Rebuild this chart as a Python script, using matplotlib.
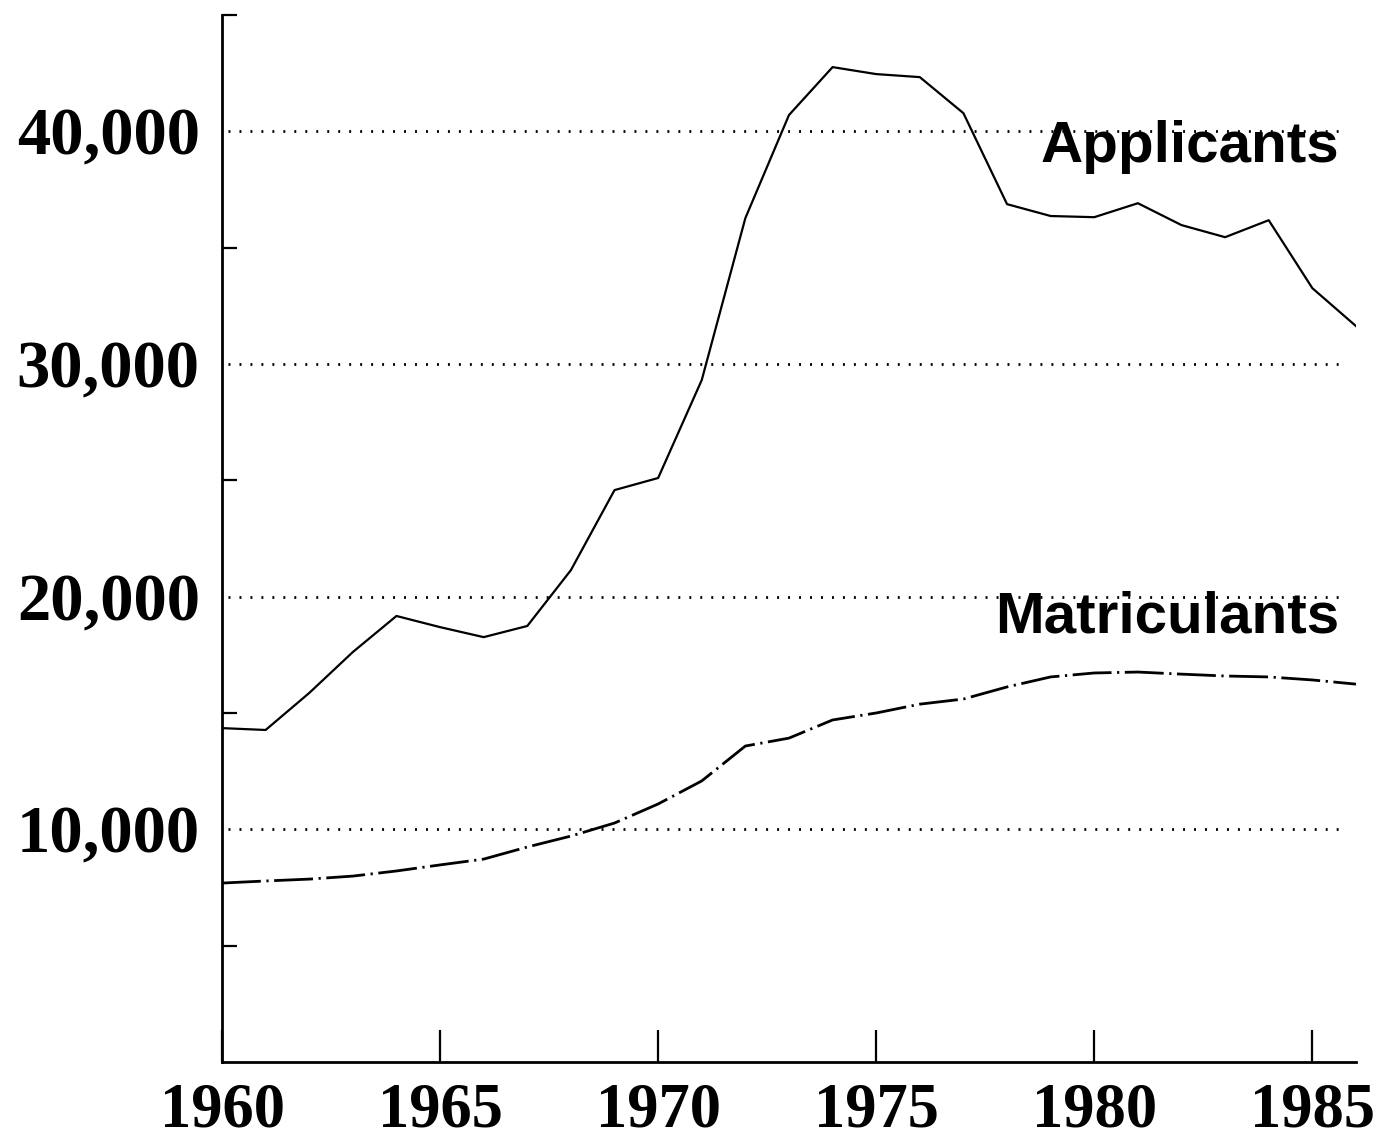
import numpy as np
import matplotlib.pyplot as plt
from matplotlib.ticker import FixedLocator

# ── Data ───────────────────────────────────────────────────────────────────
years = list(range(1960, 1987))

applicants = [14.35, 14.27, 15.86, 17.62, 19.17, 18.69, 18.26, 18.74, 21.14,
              24.58, 25.10, 29.31, 36.27, 40.70, 42.76, 42.46, 42.33, 40.78,
              36.87, 36.36, 36.31, 36.91, 35.97, 35.45, 36.18, 33.26, 31.63]

matriculants = [7.69, 7.78, 7.86, 7.99, 8.21, 8.47, 8.72, 9.24, 9.71, 10.27,
                11.09, 12.08, 13.58, 13.92, 14.70, 15.00, 15.38, 15.60, 16.12,
                16.55, 16.72, 16.76, 16.67, 16.59, 16.55, 16.42, 16.24]

applicants = np.array(applicants) * 1000
matriculants = np.array(matriculants) * 1000

y_major = [10000, 20000, 30000, 40000]
y_minor = [5000, 15000, 25000, 35000, 45000]
x_major = [1960, 1965, 1970, 1975, 1980, 1985]

# ── Figure ─────────────────────────────────────────────────────────────────
fig = plt.figure(figsize=(13.91, 11.45), dpi=100)
ax = fig.add_axes([0.1596, 0.0725, 0.8152, 0.9144])

ax.plot(years, applicants, color="black", lw=1.6)
ax.plot(years, matriculants, color="black", lw=2.0,
        dashes=(14, 2, 0.8, 2))

# dotted reference lines
for v in y_major:
    ax.axhline(v, xmin=0.005, xmax=0.99, color="black", lw=2.0,
               linestyle=(0, (0.7, 3.25)), zorder=0)

ax.set_xlim(1960, 1986)
ax.set_ylim(0, 45000)

for side in ("top", "right"):
    ax.spines[side].set_visible(False)
for side in ("left", "bottom"):
    ax.spines[side].set_linewidth(2.0)

serif_y = dict(family="Liberation Serif", weight="bold", size=48)
serif_x = dict(family="Liberation Serif", weight="bold", size=45)

ax.xaxis.set_major_locator(FixedLocator(x_major))
ax.set_xticklabels([str(x) for x in x_major], fontdict=serif_x)
ax.tick_params(axis="x", direction="in", length=23, width=1.6, pad=15)

ax.yaxis.set_major_locator(FixedLocator(y_major))
ax.yaxis.set_minor_locator(FixedLocator(y_minor))
ax.set_yticklabels([f"{v:,}" for v in y_major], fontdict=serif_y)
ax.tick_params(axis="y", which="major", length=0, pad=16)
ax.tick_params(axis="y", which="minor", direction="in", length=11, width=1.6)

sans = dict(family="Liberation Sans", weight="bold", size=42)
ax.text(1978.76, 38700, "Applicants", ha="left", va="baseline", **sans)
ax.text(1977.73, 18480, "Matriculants", ha="left", va="baseline", **sans)

fig.savefig("out.png", dpi=100)
